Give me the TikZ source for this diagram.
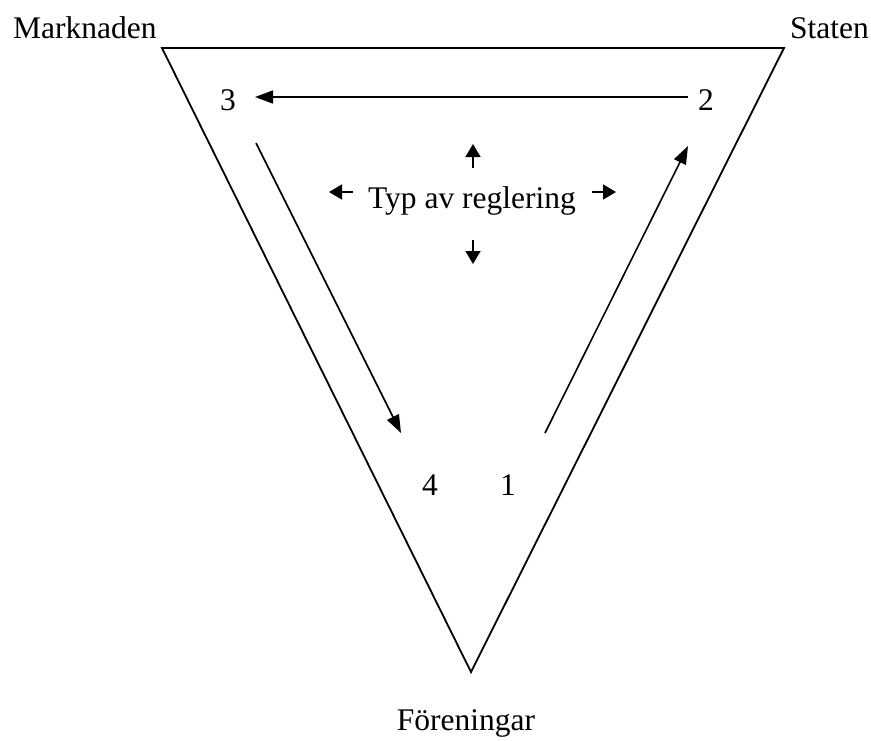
\documentclass[tikz,border=0pt]{standalone}
\usepackage{fontspec}
\setmainfont{Liberation Serif}
\usetikzlibrary{positioning,arrows.meta}

\tikzset{
  lbl/.style={inner sep=0pt,anchor=base,font=\fontsize{31.5}{36}\selectfont},
  flow/.style={line width=1.6pt,-{Triangle[length=18pt,width=13pt]}},
  hint/.style={line width=1.6pt,-{Triangle[length=13pt,width=15pt]}},
}

\begin{document}
\begin{tikzpicture}[x=1pt,y=-1pt]
  \useasboundingbox (0,0) rectangle (871,740);

  % triangle
  \coordinate (mk) at (162,48);
  \coordinate (st) at (784,48);
  \coordinate (fo) at (471,672);
  \draw[line width=1.8pt] (mk) -- (st) -- (fo) -- cycle;
  \node[lbl,anchor=base west] (marknaden) at (13,38) {Marknaden};
  \node[lbl,anchor=base west] (staten) at (790,38) {Staten};
  \node[lbl] (foreningar) at (466,730) {Föreningar};

  % numbered steps
  \node[lbl] (n3) at (228,110) {3};
  \node[lbl] (n2) at (706,110) {2};
  \node[lbl] (n4) at (430,495) {4};
  \node[lbl] (n1) at (508,495) {1};
  \coordinate (a2) at (688,97);  \coordinate (a3) at (255,97);
  \coordinate (b3) at (256,143); \coordinate (b4) at (401,433);
  \coordinate (c1) at (545,433); \coordinate (c2) at (688,146);
  \draw[flow] (a2) -- (a3);
  \draw[flow] (b3) -- (b4);
  \draw[flow] (c1) -- (c2);

  % centre
  \node[lbl] (typ) at (472,208) {Typ av reglering};
  \coordinate (up0) at (473,168); \coordinate (up1) at (473,144);
  \coordinate (dn0) at (473,240); \coordinate (dn1) at (473,264);
  \coordinate (lf0) at (353,192); \coordinate (lf1) at (329,192);
  \coordinate (rt0) at (592,192); \coordinate (rt1) at (616,192);
  \draw[hint] (up0) -- (up1);
  \draw[hint] (dn0) -- (dn1);
  \draw[hint] (lf0) -- (lf1);
  \draw[hint] (rt0) -- (rt1);
\end{tikzpicture}
\end{document}
